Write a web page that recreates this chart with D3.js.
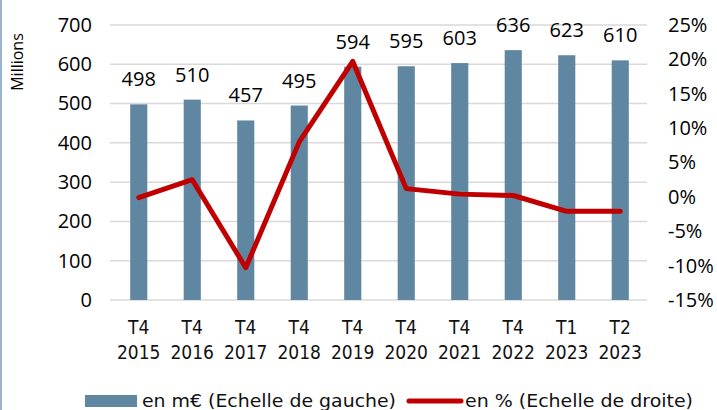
<!DOCTYPE html>
<html>
<head>
<meta charset="utf-8">
<script src="https://cdn.jsdelivr.net/npm/d3@7"></script>
<style>
  body { margin: 0; background: #fff; }
  svg { display: block; }
</style>
</head>
<body>
<div id="chart"></div>
<script>
// data
var periods = ["T4|2015", "T4|2016", "T4|2017", "T4|2018", "T4|2019", "T4|2020", "T4|2021", "T4|2022", "T1|2023", "T2|2023"];
var amounts = [498, 510, 457, 495, 594, 595, 603, 636, 623, 610];      // en m€
var changes = [-0.1, 2.5, -10.3, 8.0, 19.7, 1.2, 0.4, 0.2, -2.1, -2.1]; // en %
var leftTicks = [0, 100, 200, 300, 400, 500, 600, 700];
var rightTicks = [-15, -10, -5, 0, 5, 10, 15, 20, 25];
var legendLabels = ["en m€ (Echelle de gauche)", "en % (Echelle de droite)"];

var width = 717, height = 410;
var plotLeft = 112, plotRight = 647, plotTop = 25, plotBottom = 300;

var svg = d3.select("#chart").append("svg")
    .attr("width", width)
    .attr("height", height);

// frame edge on the left
svg.append("line")
    .attr("x1", 1).attr("x2", 1).attr("y1", 0).attr("y2", height)
    .attr("stroke", "#9BB5CE").attr("stroke-width", 2);

var x = d3.scaleBand()
    .domain(periods)
    .range([plotLeft, plotRight])
    .paddingInner(0.68)
    .paddingOuter(0.34);

var y = d3.scaleLinear().domain([0, 700]).range([plotBottom, plotTop]);
var y2 = d3.scaleLinear().domain([-15, 25]).range([plotBottom, plotTop]);

// gridlines
svg.append("g")
    .selectAll("line")
    .data(leftTicks)
    .enter()
    .append("line")
    .attr("x1", plotLeft - 2)
    .attr("x2", plotRight)
    .attr("y1", function (d) { return y(d); })
    .attr("y2", function (d) { return y(d); })
    .attr("stroke", "#D9D9D9")
    .attr("stroke-width", 1.5);

// left axis
var yAxis = svg.append("g")
    .attr("transform", "translate(" + (plotLeft - 20) + ",0)")
    .call(d3.axisLeft(y).tickValues(leftTicks).tickSize(0).tickPadding(0));
yAxis.select(".domain").remove();
yAxis.selectAll("text")
    .attr("font-family", "'Open Sans', sans-serif")
    .attr("font-size", 20)
    .attr("fill", "#000");

// right axis
var y2Axis = svg.append("g")
    .attr("transform", "translate(668,0)")
    .call(d3.axisRight(y2).tickValues(rightTicks).tickSize(0).tickPadding(0)
        .tickFormat(function (d) { return d + "%"; }));
y2Axis.select(".domain").remove();
y2Axis.selectAll("text")
    .attr("font-family", "'Open Sans', sans-serif")
    .attr("font-size", 20)
    .attr("fill", "#000");

// axis title
svg.append("text")
    .attr("transform", "translate(23,62) rotate(-90)")
    .attr("text-anchor", "middle")
    .attr("font-family", "'Open Sans', sans-serif")
    .attr("font-size", 16)
    .text("Millions");

// bars
svg.append("g")
    .selectAll("rect")
    .data(amounts)
    .enter()
    .append("rect")
    .attr("x", function (d, i) { return x(periods[i]); })
    .attr("width", x.bandwidth())
    .attr("y", function (d) { return y(d); })
    .attr("height", function (d) { return y(0) - y(d); })
    .attr("fill", "#5F87A2");

// bar labels
svg.append("g")
    .selectAll("text")
    .data(amounts)
    .enter()
    .append("text")
    .attr("x", function (d, i) { return x(periods[i]) + x.bandwidth() / 2; })
    .attr("y", function (d) { return y(d) - 18; })
    .attr("text-anchor", "middle")
    .attr("font-family", "'Open Sans', sans-serif")
    .attr("font-size", 20)
    .text(function (d) { return d; });

// line
var line = d3.line()
    .x(function (d, i) { return x(periods[i]) + x.bandwidth() / 2; })
    .y(function (d) { return y2(d); });

svg.append("path")
    .datum(changes)
    .attr("d", line)
    .attr("fill", "none")
    .attr("stroke", "#C00000")
    .attr("stroke-width", 5)
    .attr("stroke-linejoin", "round")
    .attr("stroke-linecap", "round");

// x labels
var xl = svg.append("g")
    .selectAll("text")
    .data(periods)
    .enter()
    .append("text")
    .attr("text-anchor", "middle")
    .attr("font-family", "'DejaVu Sans Condensed', sans-serif")
    .attr("font-size", 19)
    .attr("fill", "#111");
xl.append("tspan")
    .attr("x", function (d) { return x(d) + x.bandwidth() / 2; })
    .attr("y", 334)
    .text(function (d) { return d.split("|")[0]; });
xl.append("tspan")
    .attr("x", function (d) { return x(d) + x.bandwidth() / 2; })
    .attr("y", 359)
    .text(function (d) { return d.split("|")[1]; });

// legend
var legend = svg.append("g")
    .attr("font-family", "'DejaVu Sans', sans-serif")
    .attr("font-size", 18)
    .attr("fill", "#111");
legend.append("rect")
    .attr("x", 85).attr("y", 395).attr("width", 52).attr("height", 12)
    .attr("fill", "#5F87A2");
legend.append("text")
    .attr("x", 142).attr("y", 407)
    .attr("textLength", 254)
    .attr("lengthAdjust", "spacingAndGlyphs")
    .text(legendLabels[0]);
legend.append("line")
    .attr("x1", 409).attr("x2", 461).attr("y1", 401).attr("y2", 401)
    .attr("stroke", "#C00000").attr("stroke-width", 5).attr("stroke-linecap", "round");
legend.append("text")
    .attr("x", 465).attr("y", 407)
    .attr("textLength", 228)
    .attr("lengthAdjust", "spacingAndGlyphs")
    .text(legendLabels[1]);
</script>
</body>
</html>
